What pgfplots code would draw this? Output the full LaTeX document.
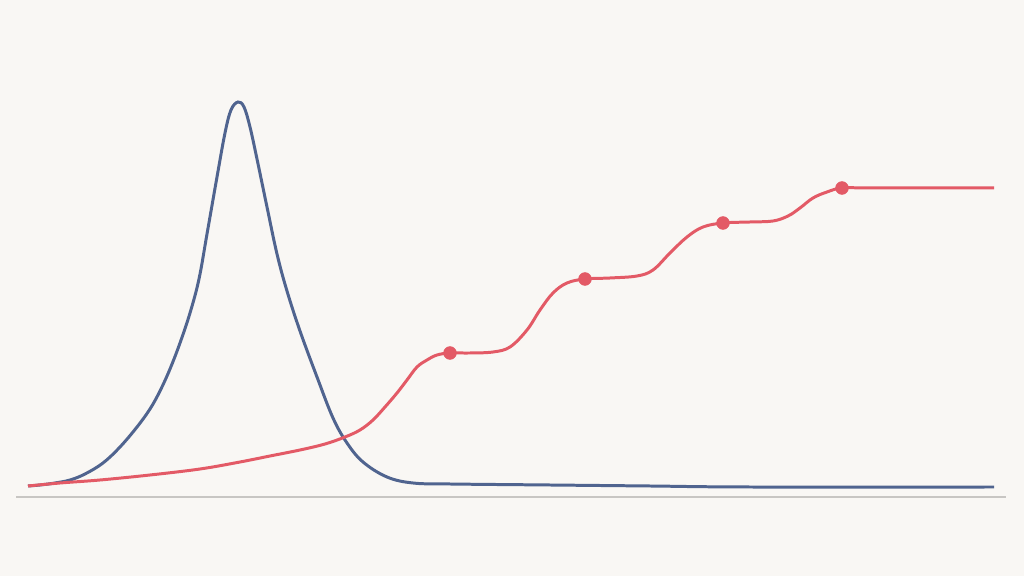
\documentclass[border=0pt]{standalone}
\usepackage{pgfplots}
\pgfplotsset{compat=1.18}
\definecolor{bgcol}{HTML}{F9F7F4}
\definecolor{bluecol}{HTML}{50648F}
\definecolor{redcol}{HTML}{E35A66}
\definecolor{basecol}{HTML}{C8C6C3}
\begin{document}
\begin{tikzpicture}
\fill[bgcol] (0,0) rectangle (1024bp,576bp);
\begin{axis}[
    at={(0,0)}, anchor=south west,
    scale only axis,
    width=1024bp, height=576bp,
    xmin=0, xmax=1024,
    ymin=-79, ymax=497,
    axis lines=none,
    clip=false,
]
% baseline
\addplot[basecol, line width=2pt] coordinates {(16,0) (1006,0)};
% blue peak
\addplot[bluecol, line width=3pt, smooth, tension=0.6] coordinates {
(28,11) (40,12) (55,14) (70,17) (85,23) (103,34) (120,50) (137,70)
(150,88) (160,106) (170,128) (180,154) (190,184) (199,218) (207,263)
(217,320) (225,364) (231,387) (238,395) (244,390) (250,370) (257,338)
(267,290) (277,243) (287,206) (300,166) (317,120) (333,79) (347,54)
(363,35) (387,20) (413,14) (450,13) (550,12) (650,11) (750,10) (994,10)};
% red steps
\addplot[redcol, line width=3pt, smooth, tension=0.6] coordinates {
(28,11) (60,14) (100,17) (150,22) (200,28) (240,35) (270,41) (300,47)
(325,53) (345,60) (360,67) (373,77) (385,90) (397,104) (407,117)
(417,130) (427,137) (437,142) (450,144) (470,144) (493,145) (510,150)
(527,167) (540,187) (553,204) (567,214) (585,218) (610,219) (637,221)
(653,227) (670,244) (687,260) (703,270) (723,274) (750,275) (773,276)
(788,281) (800,289) (813,299) (827,305) (842,309) (870,309) (920,309)
(994,309)};
\addplot[only marks, mark=*, mark size=6.5pt, redcol] coordinates {
(450,144) (585,218) (723,274) (842,309)};
\end{axis}
\end{tikzpicture}
\end{document}
